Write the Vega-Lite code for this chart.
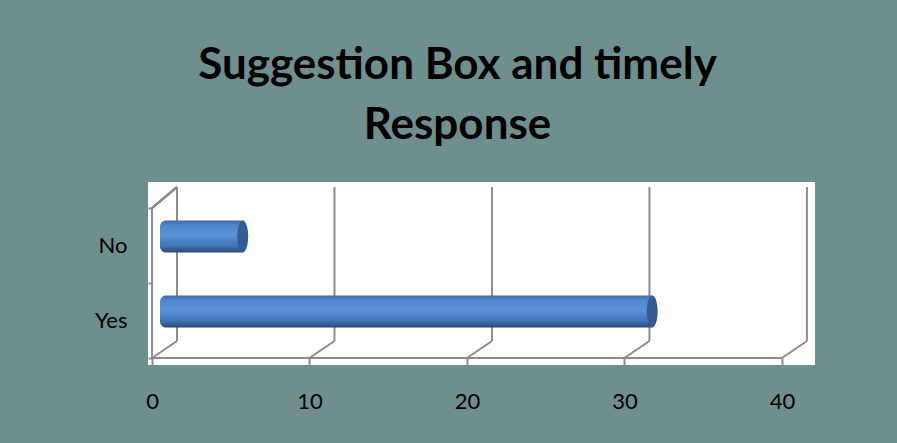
{
  "$schema": "https://vega.github.io/schema/vega-lite/v6.json",
  "width": 667,
  "height": 183,
  "autosize": {"type": "none"},
  "padding": {"left": 148, "top": 182, "right": 82, "bottom": 78},
  "background": "#6f8f8f",
  "title": {
    "text": ["Suggestion Box and timely", "Response"],
    "font": "Lato",
    "fontSize": 44,
    "fontWeight": "bold",
    "color": "#000000",
    "anchor": "middle",
    "dx": -24,
    "lineHeight": 60,
    "offset": 23
  },
  "config": {
    "view": {"fill": "#ffffff", "stroke": null},
    "font": "Lato"
  },
  "datasets": {
    "bars": [
      {"response": "No", "count": 5},
      {"response": "Yes", "count": 31}
    ],
    "ticks": [
      {"v": 0}, {"v": 10}, {"v": 20}, {"v": 30}, {"v": 40}
    ]
  },
  "layer": [
    {
      "data": {"name": "ticks"},
      "mark": {"type": "rule", "color": "#8c8c8c", "strokeWidth": 2, "xOffset": 25, "yOffset": -21, "y2Offset": -17},
      "encoding": {
        "x": {"field": "v", "type": "quantitative"},
        "y": {"datum": "No", "type": "nominal", "bandPosition": 0},
        "y2": {"datum": "Yes", "bandPosition": 1}
      }
    },
    {
      "data": {"name": "ticks"},
      "mark": {"type": "rule", "color": "#8c8c8c", "strokeWidth": 2, "x2Offset": 25, "y2Offset": -17},
      "encoding": {
        "x": {"field": "v", "type": "quantitative"},
        "x2": {"field": "v"},
        "y": {"datum": "Yes", "type": "nominal", "bandPosition": 1},
        "y2": {"datum": "Yes", "bandPosition": 1}
      }
    },
    {
      "data": {"name": "ticks"},
      "mark": {"type": "rule", "color": "#8c8c8c", "strokeWidth": 2, "x2Offset": 25, "y2Offset": -21},
      "encoding": {
        "x": {"datum": 0, "type": "quantitative"},
        "x2": {"datum": 0},
        "y": {"datum": "No", "type": "nominal", "bandPosition": 0},
        "y2": {"datum": "No", "bandPosition": 0}
      }
    },
    {
      "data": {"name": "ticks"},
      "mark": {"type": "rule", "color": "#8c8c8c", "strokeWidth": 2},
      "encoding": {
        "x": {"datum": 0, "type": "quantitative"},
        "y": {"datum": "No", "type": "nominal", "bandPosition": 0},
        "y2": {"datum": "Yes", "bandPosition": 1}
      }
    },
    {
      "data": {"name": "ticks"},
      "mark": {"type": "rule", "color": "#8c8c8c", "strokeWidth": 2},
      "encoding": {
        "x": {"datum": 0, "type": "quantitative"},
        "x2": {"datum": 40},
        "y": {"datum": "Yes", "type": "nominal", "bandPosition": 1}
      }
    },
    {
      "data": {"name": "bars"},
      "mark": {
        "type": "bar",
        "height": 32,
        "xOffset": 12,
        "x2Offset": 8,
        "yOffset": -9,
        "cornerRadiusTopLeft": 6,
        "cornerRadiusBottomLeft": 6,
        "fill": {
          "gradient": "linear",
          "x1": 0, "y1": 0, "x2": 0, "y2": 1,
          "stops": [
            {"offset": 0, "color": "#3f6cac"},
            {"offset": 0.15, "color": "#5086cc"},
            {"offset": 0.45, "color": "#5b92d8"},
            {"offset": 0.8, "color": "#4273b5"},
            {"offset": 1, "color": "#2a4775"}
          ]
        }
      },
      "encoding": {
        "y": {
          "field": "response",
          "type": "nominal",
          "sort": ["No", "Yes"],
          "scale": {"paddingInner": 0, "paddingOuter": 0.22, "align": 0.788},
          "axis": {
            "title": null,
            "domain": false,
            "tickBand": "extent",
            "tickColor": "#8c8c8c",
            "tickWidth": 2,
            "tickSize": 4,
            "offset": -4,
            "labelPadding": 21,
            "labelFontSize": 22,
            "labelColor": "#000000",
            "labelFont": "Lato"
          }
        },
        "x": {
          "field": "count",
          "type": "quantitative",
          "scale": {"domain": [-0.254, 42.1], "nice": false, "zero": false},
          "axis": {
            "title": null,
            "grid": false,
            "domain": false,
            "values": [0, 10, 20, 30, 40],
            "tickColor": "#8c8c8c",
            "tickWidth": 2,
            "tickSize": 8,
            "offset": -7,
            "labelPadding": 25,
            "labelFontSize": 22,
            "labelColor": "#000000",
            "labelFont": "Lato"
          }
        },
        "x2": {"datum": 0}
      }
    },
    {
      "data": {"name": "bars"},
      "mark": {
        "type": "point",
        "shape": "M0,-1A0.34,1,0,1,1,0,1A0.34,1,0,1,1,0,-1Z",
        "size": 1024,
        "filled": true,
        "opacity": 1,
        "fill": "#355c90",
        "strokeWidth": 0,
        "xOffset": 12,
        "yOffset": -9
      },
      "encoding": {
        "x": {"field": "count", "type": "quantitative"},
        "y": {"field": "response", "type": "nominal"}
      }
    }
  ]
}
